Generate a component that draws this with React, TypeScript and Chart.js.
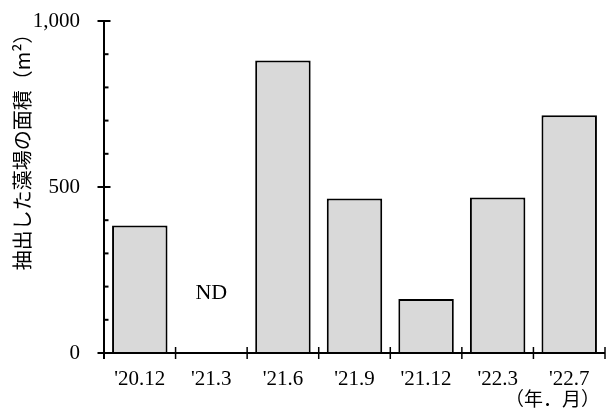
import React, { useEffect, useRef } from "react";
import { Chart, registerables } from "chart.js";

Chart.register(...registerables);

const categories = ["'20.12", "'21.3", "'21.6", "'21.9", "'21.12", "'22.3", "'22.7"];
const areaValues: (number | null)[] = [384, null, 881, 465, 163, 468, 716];
const yTickValues = [0, 500, 1000];
const yMinorStep = 100;
const notes = [{ index: 1, value: 180, text: "ND" }];
const yTitle = "抽出した藻場の面積（m²）";
const xUnit = "（年．月）";

const SERIF = '"Liberation Serif", "Times New Roman", serif';
const SANS = '"Noto Sans CJK JP", "Noto Sans", sans-serif';

const axesPlugin = {
  id: "customAxes",
  afterDatasetsDraw(chart: any) {
    const { ctx, chartArea, scales } = chart;
    const x = scales.x;
    const y = scales.y;
    const left = chartArea.left;
    const right = chartArea.right;
    const bottom = y.getPixelForValue(0);
    const top = y.getPixelForValue(1000);
    ctx.save();
    ctx.strokeStyle = "#000";
    ctx.lineCap = "butt";
    ctx.lineWidth = 2;
    ctx.beginPath();
    ctx.moveTo(left, top);
    ctx.lineTo(left, bottom + 6);
    ctx.stroke();
    ctx.beginPath();
    ctx.moveTo(left, bottom);
    ctx.lineTo(right, bottom);
    ctx.stroke();
    for (const v of yTickValues) {
      const py = y.getPixelForValue(v);
      ctx.beginPath();
      ctx.moveTo(left - 6.5, py);
      ctx.lineTo(left + 6.5, py);
      ctx.stroke();
    }
    for (let v = yMinorStep; v < 1000; v += yMinorStep) {
      if (yTickValues.includes(v)) continue;
      const py = y.getPixelForValue(v);
      ctx.beginPath();
      ctx.moveTo(left, py);
      ctx.lineTo(left + 4.5, py);
      ctx.stroke();
    }
    ctx.lineWidth = 1.5;
    for (let i = 1; i <= categories.length; i++) {
      const px = i < categories.length
        ? (x.getPixelForValue(i - 1) + x.getPixelForValue(i)) / 2
        : right;
      ctx.beginPath();
      ctx.moveTo(px, bottom - 6);
      ctx.lineTo(px, bottom + 6);
      ctx.stroke();
    }
    ctx.fillStyle = "#000";
    ctx.font = "22px " + SERIF;
    ctx.textAlign = "center";
    ctx.textBaseline = "middle";
    for (const n of notes) {
      ctx.fillText(n.text, x.getPixelForValue(n.index), y.getPixelForValue(n.value));
    }
    ctx.save();
    ctx.font = "20px " + SANS;
    ctx.translate(left - 82, top + 126);
    ctx.rotate(-Math.PI / 2);
    ctx.textAlign = "center";
    ctx.textBaseline = "middle";
    ctx.fillText(yTitle, 0, 0);
    ctx.restore();
    ctx.font = "19px " + SANS;
    ctx.textAlign = "left";
    ctx.textBaseline = "middle";
    ctx.fillText(xUnit, right - 100, bottom + 46);
    ctx.restore();
  },
};

export default function App() {
  const ref = useRef<HTMLCanvasElement | null>(null);
  useEffect(() => {
    if (!ref.current) return;
    const chart = new Chart(ref.current, {
      type: "bar",
      data: {
        labels: categories,
        datasets: [
          {
            data: areaValues as any,
            backgroundColor: "#d9d9d9",
            borderColor: "#000",
            borderWidth: 2,
            categoryPercentage: 1,
            barPercentage: 0.775,
          },
        ],
      },
      options: {
        animation: false,
        responsive: true,
        maintainAspectRatio: false,
        layout: { padding: { top: 21, right: 3, left: 0, bottom: 0 } },
        plugins: { legend: { display: false }, tooltip: { enabled: false } },
        scales: {
          x: {
            grid: { display: false, drawTicks: false },
            border: { display: false },
            ticks: { color: "#000", font: { family: SERIF, size: 21 }, padding: 14, maxRotation: 0 },
            afterFit: (s: any) => { s.height = 63; s.paddingLeft = 0; s.paddingRight = 0; },
          },
          y: {
            min: 0,
            max: 1000,
            grid: { display: false, drawTicks: false },
            border: { display: false },
            ticks: {
              stepSize: 500,
              color: "#000",
              font: { family: SERIF, size: 21 },
              padding: 24,
              callback: (v: any) => Number(v).toLocaleString("en-US"),
            },
            afterFit: (s: any) => { s.width = 104; s.paddingTop = 0; s.paddingBottom = 0; },
          },
        },
      },
      plugins: [axesPlugin],
    });
    return () => chart.destroy();
  }, []);
  return (
    <div style={{ position: "fixed", left: 0, top: 0, width: 608, height: 416, background: "#fff" }}>
      <canvas ref={ref} />
    </div>
  );
}
